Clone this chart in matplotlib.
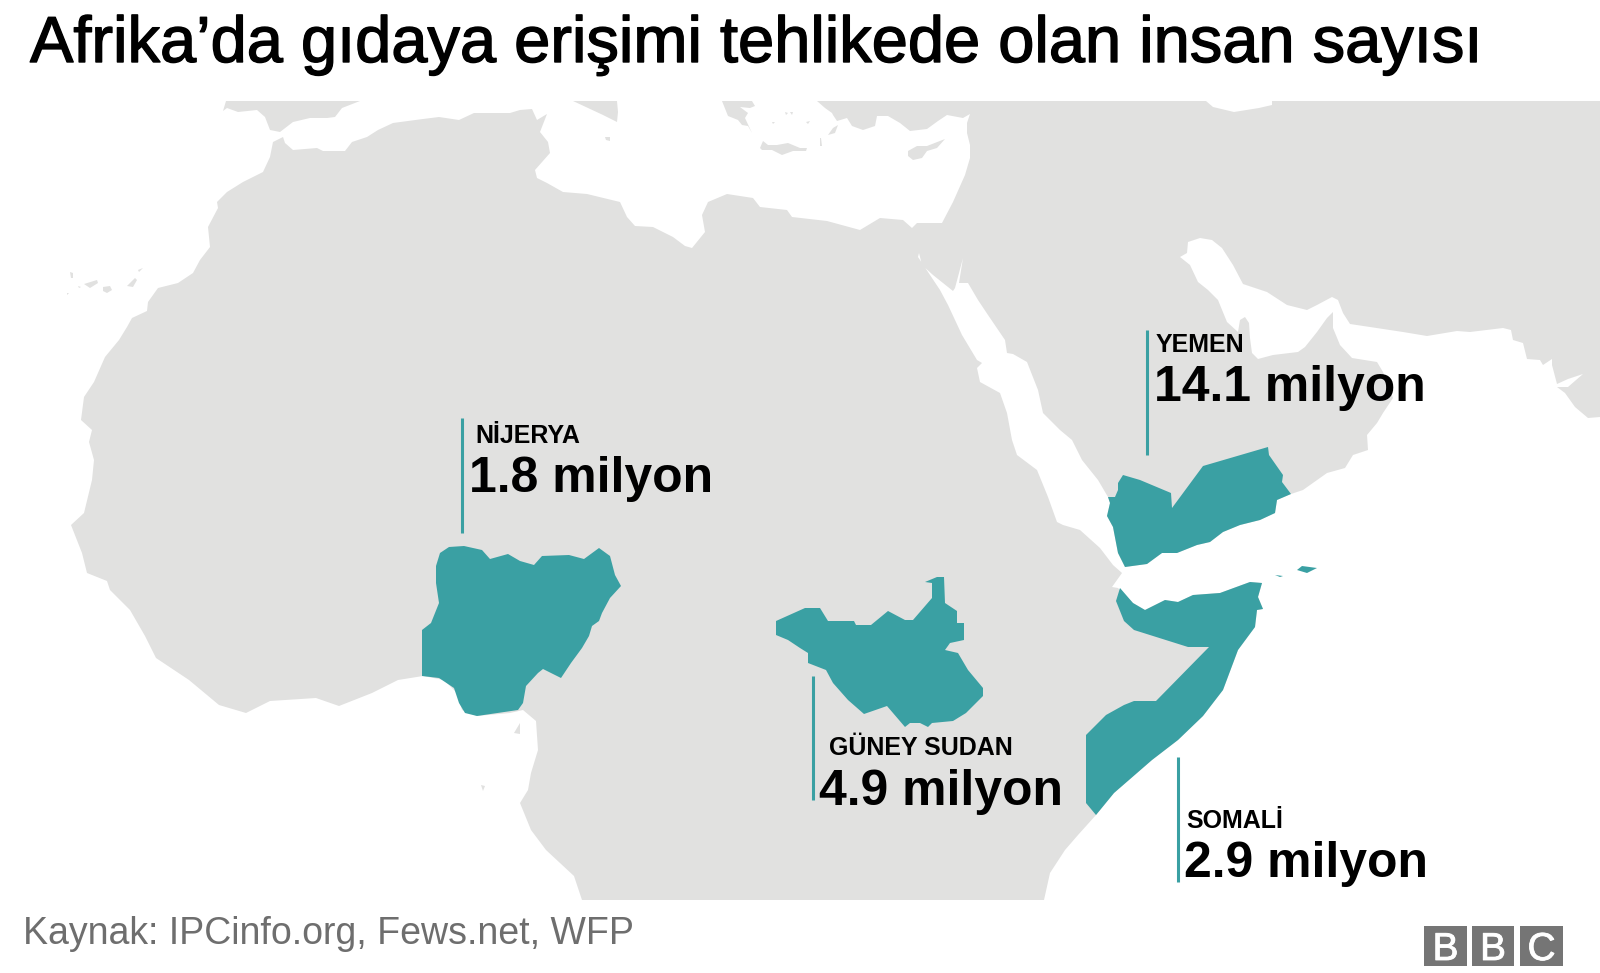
import matplotlib
matplotlib.use("Agg")
import matplotlib.pyplot as plt
import matplotlib.patheffects as pe

# outlines, in image pixels
land = [
    (283, 137), (285, 143), (293, 150), (317, 148), (323, 151), (345, 151), (352, 142), (367, 137), (378, 130),
    (393, 123), (423, 119), (439, 117), (459, 120), (474, 113), (510, 113), (520, 110), (532, 109), (537, 120),
    (547, 114), (540, 132), (548, 142), (550, 153), (535, 170), (537, 178), (547, 183), (563, 192), (587, 194),
    (620, 202), (627, 217), (635, 226), (653, 227), (673, 237), (685, 246), (692, 248), (705, 232), (702, 215),
    (708, 202), (727, 194), (753, 198), (760, 207), (787, 210), (792, 217), (827, 221), (860, 230), (880, 218),
    (903, 220), (912, 228), (917, 223), (942, 223), (953, 202), (965, 175), (970, 158), (970, 145), (967, 133),
    (967, 123), (970, 114), (963, 118), (947, 115), (938, 121), (927, 129), (910, 131), (900, 123), (888, 116),
    (877, 116), (875, 126), (863, 130), (852, 126), (847, 118), (837, 121), (833, 115), (832, 113), (825, 108),
    (817, 101),
    (1206, 101), (1213, 107), (1234, 112), (1259, 108), (1272, 105), (1272, 101), (1600, 101), (1600, 417),
    (1588, 418), (1575, 407), (1565, 393), (1557, 387), (1568, 387), (1583, 374), (1568, 379), (1557, 384),
    (1552, 365), (1552, 359), (1543, 365), (1540, 360), (1527, 359), (1523, 343), (1513, 340), (1511, 330),
    (1503, 328), (1470, 332), (1457, 331), (1427, 336), (1403, 332), (1370, 327), (1350, 324), (1343, 313),
    (1338, 300), (1332, 297), (1317, 305), (1307, 310), (1287, 305), (1267, 292), (1243, 284), (1233, 265),
    (1222, 248), (1212, 240), (1200, 238), (1188, 242), (1187, 253), (1180, 257), (1190, 265), (1198, 282),
    (1208, 290), (1218, 300), (1227, 322), (1238, 332), (1240, 320), (1245, 317), (1249, 323), (1250, 338),
    (1252, 353), (1258, 359), (1273, 355), (1298, 352), (1305, 347), (1317, 332), (1327, 318), (1333, 312),
    (1333, 328), (1340, 345), (1352, 358), (1377, 362), (1383, 372), (1393, 398), (1383, 413), (1377, 423),
    (1367, 435), (1368, 450), (1353, 455), (1345, 468), (1327, 473),
    (1303, 490), (1291, 494), (1277, 500), (1275, 513), (1260, 520), (1240, 525), (1223, 532), (1210, 542),
    (1197, 545), (1177, 553), (1162, 553), (1147, 564), (1125, 567), (1118, 553), (1113, 527), (1107, 516),
    (1110, 503), (1108, 497), (1098, 480), (1082, 460), (1072, 440), (1060, 430), (1043, 413), (1038, 390),
    (1027, 362), (1013, 354), (1007, 353), (1005, 340), (988, 315), (978, 300), (968, 283), (959, 283),
    (963, 258), (955, 288), (953, 291), (933, 275), (922, 265), (919, 253), (918, 257), (940, 290), (948, 305),
    (962, 335), (977, 360), (982, 363), (977, 368), (980, 382), (1000, 393), (1007, 413), (1012, 440),
    (1017, 455), (1037, 470), (1048, 497), (1057, 522), (1063, 525), (1080, 530), (1100, 548), (1113, 565),
    (1122, 573), (1112, 587), (1118, 588), (1133, 603), (1145, 610), (1165, 600), (1178, 602), (1193, 595),
    (1220, 593), (1250, 582), (1262, 583), (1258, 597), (1263, 609), (1257, 610), (1255, 627), (1238, 650),
    (1223, 690), (1203, 716), (1178, 740), (1152, 760), (1114, 793), (1096, 815), (1078, 835), (1065, 850),
    (1050, 873), (1044, 900),
    (582, 900), (574, 876), (546, 850), (531, 830), (520, 803), (528, 790), (531, 773), (538, 750), (536, 721),
    (523, 710), (510, 713), (477, 716), (462, 710), (457, 693), (444, 680), (423, 676), (398, 680), (372, 693),
    (339, 706), (316, 698), (270, 701), (246, 713), (219, 705), (189, 680), (156, 658), (145, 636), (130, 610),
    (110, 590), (107, 581), (87, 573), (82, 553), (71, 525), (84, 513), (92, 480), (94, 460), (89, 442),
    (92, 430), (81, 420), (84, 397), (94, 382), (105, 357), (119, 340), (127, 327), (132, 318), (147, 311),
    (148, 302), (158, 288), (178, 283), (193, 273), (200, 260), (210, 247), (208, 227), (218, 208), (217, 202),
    (227, 192), (243, 182), (263, 172), (270, 157), (273, 142),
]
spain = [(226, 101), (223, 111), (227, 108), (238, 112), (257, 110), (265, 117), (270, 130), (280, 132), (293, 122),
         (310, 118), (327, 118), (335, 117), (342, 108), (360, 101)]
italy = [(573, 101), (603, 115), (617, 122), (618, 112), (617, 101)]
greece = [(722, 101), (728, 116), (738, 120), (742, 125), (748, 126), (752, 133), (745, 118), (748, 113), (740, 107),
          (750, 108), (755, 106), (752, 101)]
crete = [(760, 148), (763, 141), (768, 145), (777, 145), (788, 143), (800, 148), (807, 148), (806, 151), (793, 151),
         (782, 155), (772, 150), (762, 150)]
cyprus = [(908, 151), (917, 146), (927, 146), (945, 139), (937, 148), (927, 151), (922, 158), (913, 160), (908, 156)]
small_islands = [
    [(828, 135), (833, 128), (838, 125), (835, 133)],
    [(605, 137), (610, 137), (610, 141), (606, 140)],
    [(84, 284), (97, 280), (98, 283), (90, 288)],
    [(103, 287), (110, 286), (112, 290), (107, 293), (103, 291)],
    [(127, 286), (135, 278), (137, 280), (133, 287)],
    [(138, 270), (143, 268), (139, 272)],
    [(70, 272), (73, 273), (73, 278), (71, 278)],
    [(67, 293), (69, 293), (67, 295)],
    [(78, 286), (81, 287), (79, 288)],
    [(520, 723), (514, 733), (520, 734)],
    [(481, 785), (485, 786), (483, 791)],
    [(785, 112), (788, 113), (786, 115)],
    [(790, 112), (793, 112), (792, 115)],
    [(806, 122), (810, 121), (808, 124)],
    [(772, 122), (775, 122), (773, 124)],
    [(820, 138), (821, 138), (822, 146), (820, 146)],
]

nigeria = [
    (440, 553), (449, 547), (464, 546), (482, 550), (490, 559), (508, 554), (520, 561), (534, 565), (542, 556),
    (569, 555), (584, 559), (599, 548), (610, 556), (615, 575), (621, 586), (610, 598), (602, 613), (599, 621),
    (592, 626), (589, 636), (582, 648), (571, 663), (561, 678), (543, 669), (538, 673), (526, 686), (523, 703),
    (518, 710), (477, 716), (465, 713), (459, 703), (454, 688), (439, 678), (422, 676), (422, 630), (431, 623),
    (439, 603), (436, 583), (436, 566),
]
south_sudan = [
    (776, 621), (805, 608), (820, 608), (828, 621), (854, 621), (856, 625), (871, 625), (888, 611), (905, 620),
    (913, 620), (932, 598), (932, 583), (925, 582), (937, 577), (944, 577), (945, 603), (957, 611), (957, 623),
    (964, 623), (964, 640), (950, 643), (945, 650), (958, 653), (968, 670), (983, 688), (983, 696), (966, 713),
    (953, 721), (932, 723), (928, 727), (920, 723), (910, 723), (905, 727), (887, 706), (864, 714), (848, 700),
    (833, 683), (826, 670), (808, 663), (808, 653), (800, 648), (788, 640), (776, 635),
]
yemen = [
    (1118, 483), (1123, 475), (1140, 480), (1171, 493), (1172, 508), (1203, 466), (1268, 447), (1269, 455),
    (1283, 475), (1282, 482), (1291, 494), (1277, 500), (1275, 513), (1260, 520), (1240, 525), (1223, 532),
    (1210, 542), (1197, 545), (1177, 553), (1162, 553), (1147, 564), (1125, 567), (1118, 553), (1113, 527),
    (1107, 516), (1110, 503), (1108, 497), (1115, 497), (1118, 490),
]
socotra = [(1297, 570), (1302, 566), (1317, 568), (1307, 573)]
socotra_small = [(1275, 575), (1283, 576), (1280, 577)]
somalia = [
    (1120, 588), (1133, 603), (1145, 610), (1165, 600), (1178, 602), (1193, 595), (1220, 593), (1250, 582),
    (1262, 583), (1258, 597), (1263, 609), (1257, 610), (1255, 627), (1238, 650), (1223, 690), (1203, 716),
    (1178, 740), (1152, 760), (1114, 793), (1096, 815), (1086, 803), (1086, 735), (1106, 715), (1124, 705),
    (1134, 701), (1156, 701), (1209, 647), (1188, 647), (1134, 630), (1124, 621), (1116, 601),
]

countries = ["NİJERYA", "YEMEN", "GÜNEY SUDAN", "SOMALİ"]
amounts = ["1.8 milyon", "14.1 milyon", "4.9 milyon", "2.9 milyon"]
name_pos = [(475, 443), (1156, 352), (829, 755), (1186, 828)]
amount_pos = [(469, 492), (1154, 401), (819, 805), (1184, 877)]
leaders = [(462, 418, 533), (1147, 330, 455), (813, 676, 800), (1178, 757, 882)]
logo_boxes = [(1424, 1467), (1472, 1514), (1520, 1563)]
logo_letters = ["B", "B", "C"]

GREY = "#e1e1e0"
TEAL = "#3aa0a3"
LOGO = "#757575"

plt.rcParams["font.family"] = ["Liberation Sans", "DejaVu Sans"]

fig = plt.figure(figsize=(16, 9.73), dpi=100)
ax = fig.add_axes([0, 0, 1, 1])
ax.set_xlim(0, 1600)
ax.set_ylim(973, 0)
ax.axis("off")

for shape in [land, spain, italy, greece, crete, cyprus] + small_islands:
    ax.fill(*zip(*shape), color=GREY, lw=0)
for shape in [nigeria, south_sudan, yemen, somalia, socotra, socotra_small]:
    ax.fill(*zip(*shape), color=TEAL, lw=0)

for x, y0, y1 in leaders:
    ax.plot([x, x], [y0, y1], color=TEAL, lw=2.2, solid_capstyle="butt")

for name, pos in zip(countries, name_pos):
    ax.text(pos[0], pos[1], name, fontsize=18, fontweight="bold", color="black", va="baseline")
for amount, pos in zip(amounts, amount_pos):
    ax.text(pos[0], pos[1], amount, fontsize=35.9, fontweight="bold", color="black", va="baseline")

# title is a medium weight in the original, thicken the regular face a little
title = ax.text(30, 62, "Afrika’da gıdaya erişimi tehlikede olan insan sayısı", fontsize=46.8, color="black",
                va="baseline")
title.set_path_effects([pe.withStroke(linewidth=1.0, foreground="black")])
ax.text(23, 944, "Kaynak: IPCinfo.org, Fews.net, WFP", fontsize=27, color="#6e6e6e", va="baseline")

for (x0, x1), letter in zip(logo_boxes, logo_letters):
    ax.fill([x0, x1, x1, x0], [926, 926, 966, 966], color=LOGO, lw=0)
    t = ax.text((x0 + x1) / 2, 960, letter, fontsize=28, color="white", ha="center", va="baseline")
    t.set_path_effects([pe.withStroke(linewidth=0.6, foreground="white")])

fig.savefig("out.png", dpi=100)
